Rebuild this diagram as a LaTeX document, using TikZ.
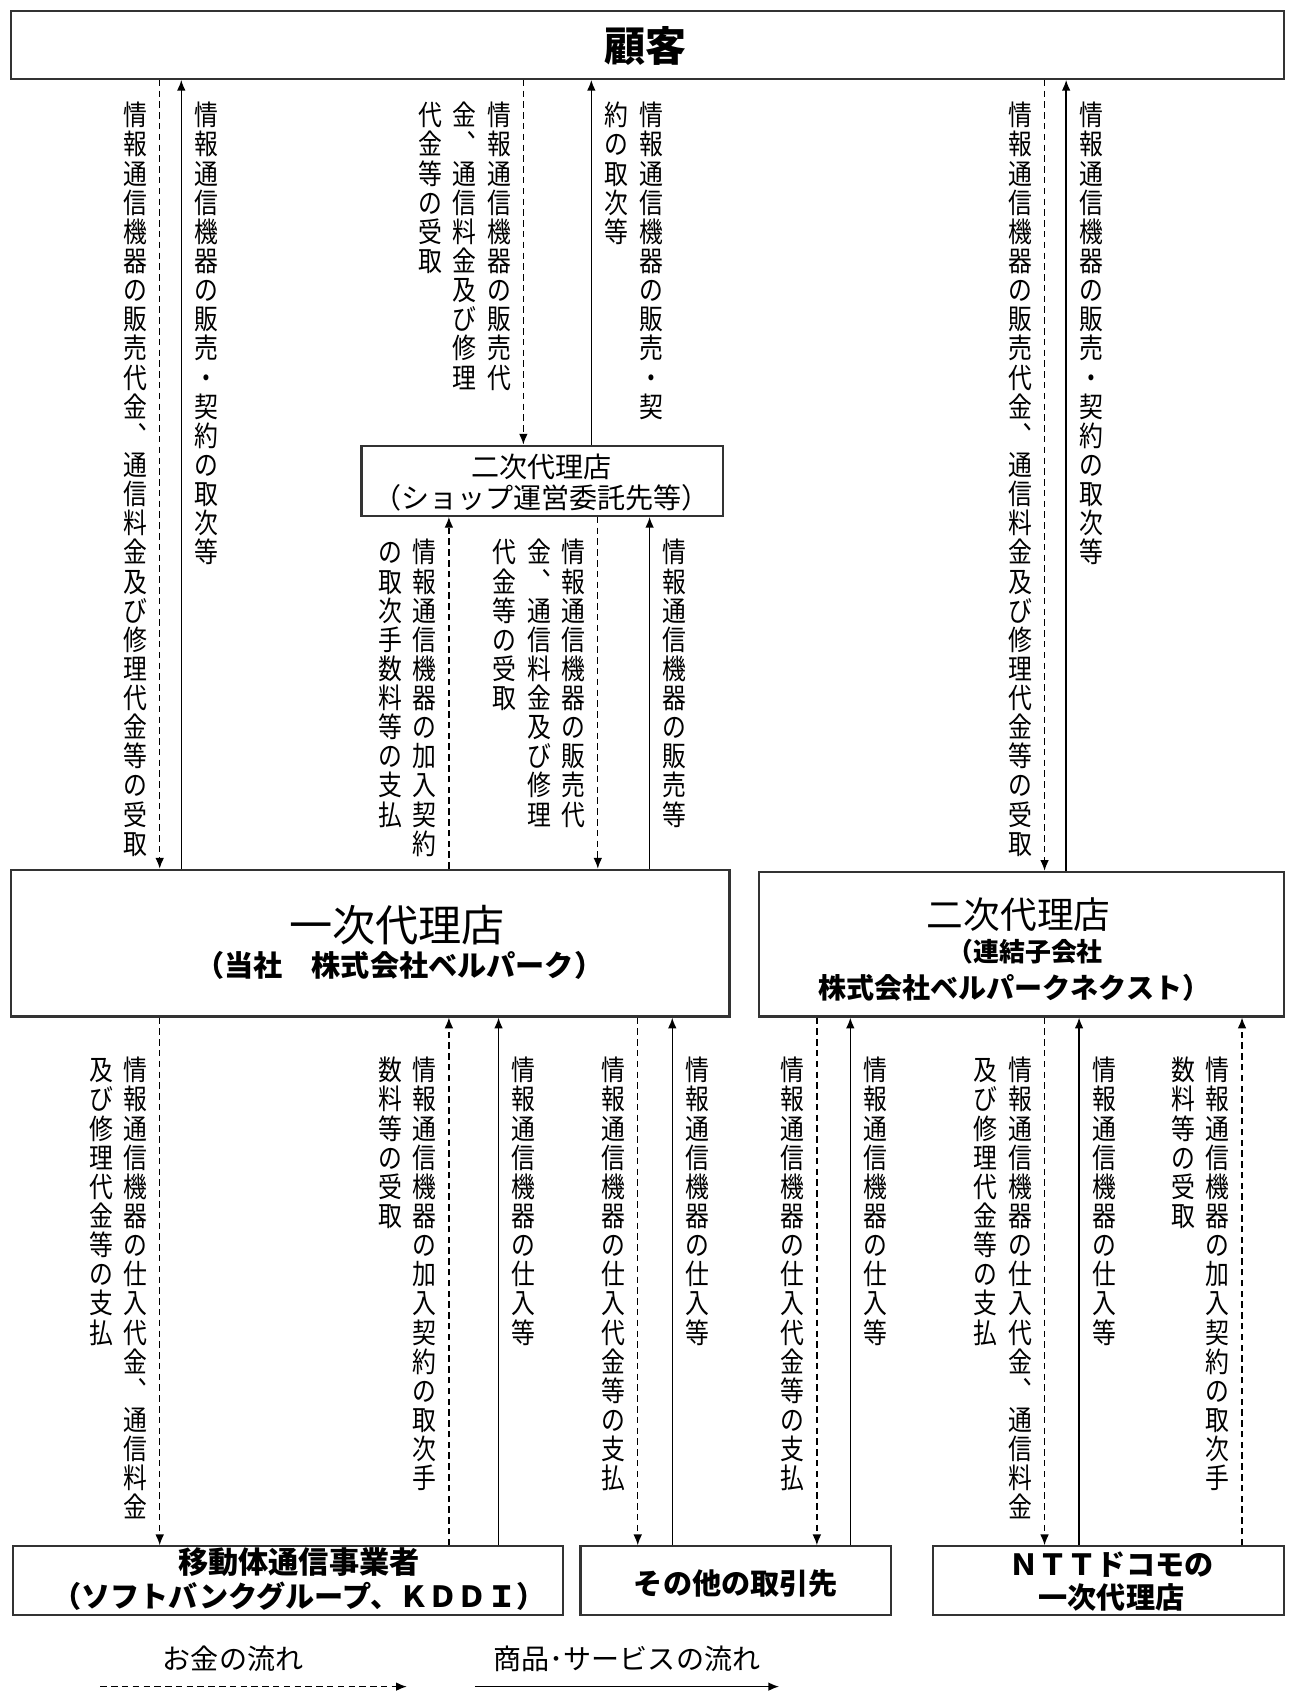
\documentclass[tikz,border=0pt]{standalone}
\usepackage{fontspec}
\setmainfont{Noto Sans CJK JP}
\newfontfamily\jpv[FakeStretch=0.85]{Noto Sans CJK JP}
\usetikzlibrary{arrows.meta}
\newcommand\setfs[1]{\fontsize{#1}{#1}\selectfont}

\ExplSyntaxOn
\dim_new:N \l__vt_pitch_dim
\dim_new:N \l__vt_wd_dim
\dim_new:N \l__vt_gap_dim
\dim_set:Nn \l__vt_pitch_dim {13.5pt}
\dim_set:Nn \l__vt_wd_dim {11pt}
\dim_set:Nn \l__vt_gap_dim {5pt}
\seq_new:N \l__vt_cols_seq
\bool_new:N \l__vt_first_bool
\cs_new_protected:Npn \__vt_char:n #1
  {
    \hbox_to_wd:nn { \l__vt_wd_dim }
      {
        \vrule height 0.86\l__vt_pitch_dim depth 0.14\l__vt_pitch_dim width 0pt
        \str_if_eq:nnTF {#1} {、}
          { \hss ︑ \hss }
          { \hss #1 \hss }
      }
  }
\cs_new_protected:Npn \__vt_col:n #1
  {
    \vtop
      {
        \offinterlineskip
        \tl_map_inline:nn {#1} { \__vt_char:n {##1} }
      }
  }
\NewDocumentCommand \vlab { m }
  {
    \seq_set_split:Nnn \l__vt_cols_seq { / } {#1}
    \seq_reverse:N \l__vt_cols_seq
    \hbox:n
      {
        \jpv \fontsize{13pt}{13.5pt} \selectfont
        \bool_set_true:N \l__vt_first_bool
        \seq_map_inline:Nn \l__vt_cols_seq
          {
            \bool_if:NF \l__vt_first_bool { \kern \l__vt_gap_dim }
            \bool_set_false:N \l__vt_first_bool
            \__vt_col:n {##1}
          }
      }
  }
\ExplSyntaxOff

\tikzset{
  box/.style={draw=black!80, line width=1pt, inner sep=0pt, fill=white},
  money/.style={line width=0.6pt, dash pattern=on 3pt off 2pt, -{Latex[length=5pt,width=4pt]}},
  goods/.style={line width=0.7pt, -{Latex[length=5pt,width=4pt]}},
  vl/.style={anchor=north east, inner sep=0pt},
  vr/.style={anchor=north west, inner sep=0pt},
  txt/.style={inner sep=0pt},
}

\begin{document}
\begin{tikzpicture}[x=0.5pt,y=-0.5pt]
\path[use as bounding box, fill=white] (0,0) rectangle (1194,1568);

% boxes
\node[box, minimum width=590pt, minimum height=31.5pt] (cust) at (600,41.5) {};
\node[txt, font=\setfs{19pt}\bfseries] (custT) at (598,43) {顧客};

\node[box, minimum width=167.5pt, minimum height=32.5pt] (shop) at (502.5,445.5) {};
\node[txt, font=\setfs{13pt}] (shopT1) at (502,433) {二次代理店};
\node[txt, font=\setfs{13pt}] (shopT2) at (502,461) {（ショップ運営委託先等）};

\node[box, minimum width=333pt, minimum height=68pt] (first) at (343,874) {};
\node[txt, font=\setfs{20pt}] (firstT1) at (368,857) {一次代理店};
\node[txt, font=\setfs{13.5pt}\bfseries] (firstT2) at (370,895) {（当社　株式会社ベルパーク）};

\node[box, minimum width=243.5pt, minimum height=67pt] (second) at (946.5,875) {};
\node[txt, font=\setfs{17pt}] (secondT1) at (944,848) {二次代理店};
\node[txt, font=\setfs{12pt}\bfseries] (secondT2) at (950,882) {（連結子会社};
\node[txt, font=\setfs{13pt}\bfseries] (secondT3) at (940,915) {株式会社ベルパークネクスト）};

\node[box, minimum width=255pt, minimum height=32pt] (carrier) at (267,1465) {};
\node[txt, font=\setfs{14pt}\bfseries] (carrierT1) at (277,1448) {移動体通信事業者};
\node[txt, font=\setfs{13.5pt}\bfseries] (carrierT2) at (277,1479) {（ソフトバンクグループ、ＫＤＤＩ）};

\node[box, minimum width=144pt, minimum height=32pt] (other) at (682,1465) {};
\node[txt, font=\setfs{13.5pt}\bfseries] (otherT) at (682,1467) {その他の取引先};

\node[box, minimum width=162.5pt, minimum height=32pt] (ntt) at (1027.5,1465) {};
\node[txt, font=\setfs{13.5pt}\bfseries] (nttT1) at (1030,1450) {ＮＴＴドコモの};
\node[txt, font=\setfs{13.5pt}\bfseries] (nttT2) at (1030,1480) {一次代理店};

% top section connectors
\draw[money] (cust.south -| 148,0) -- (first.north -| 148,0);
\draw[goods] (first.north -| 168,0) -- (cust.south -| 168,0);
\draw[money] (cust.south -| 485,0) -- (shop.north -| 485,0);
\draw[goods] (shop.north -| 548,0) -- (cust.south -| 548,0);
\draw[money] (cust.south -| 968,0) -- (second.north -| 968,0);
\draw[goods] (second.north -| 988,0) -- (cust.south -| 988,0);

% middle section connectors
\draw[money] (first.north -| 416,0) -- (shop.south -| 416,0);
\draw[money] (shop.south -| 554,0) -- (first.north -| 554,0);
\draw[goods] (first.north -| 602,0) -- (shop.south -| 602,0);

% bottom section connectors
\draw[money] (first.south -| 148,0) -- (carrier.north -| 148,0);
\draw[money] (carrier.north -| 416,0) -- (first.south -| 416,0);
\draw[goods] (carrier.north -| 462,0) -- (first.south -| 462,0);
\draw[money] (first.south -| 591,0) -- (other.north -| 591,0);
\draw[goods] (other.north -| 623,0) -- (first.south -| 623,0);
\draw[money] (second.south -| 757,0) -- (other.north -| 757,0);
\draw[goods] (other.north -| 788,0) -- (second.south -| 788,0);
\draw[money] (second.south -| 968,0) -- (ntt.north -| 968,0);
\draw[goods] (ntt.north -| 1000,0) -- (second.south -| 1000,0);
\draw[money] (ntt.north -| 1151,0) -- (second.south -| 1151,0);

% vertical labels, top
\node[vl] (l1) at (137,93) {\vlab{情報通信機器の販売代金、通信料金及び修理代金等の受取}};
\node[vr] (r1) at (180,93) {\vlab{情報通信機器の販売・契約の取次等}};
\node[vl] (l2) at (474,93) {\vlab{情報通信機器の販売代/金、通信料金及び修理/代金等の受取}};
\node[vr] (r2) at (560,93) {\vlab{情報通信機器の販売・契/約の取次等}};
\node[vl] (l3) at (957,93) {\vlab{情報通信機器の販売代金、通信料金及び修理代金等の受取}};
\node[vr] (r3) at (1000,93) {\vlab{情報通信機器の販売・契約の取次等}};

% vertical labels, middle
\node[vl] (l4) at (405,498) {\vlab{情報通信機器の加入契約/の取次手数料等の支払}};
\node[vl] (l5) at (543,498) {\vlab{情報通信機器の販売代/金、通信料金及び修理/代金等の受取}};
\node[vr] (r6) at (614,498) {\vlab{情報通信機器の販売等}};

% vertical labels, bottom
\node[vl] (l7) at (137,978) {\vlab{情報通信機器の仕入代金、通信料金/及び修理代金等の支払}};
\node[vl] (l8) at (405,978) {\vlab{情報通信機器の加入契約の取次手/数料等の受取}};
\node[vr] (r9) at (474,978) {\vlab{情報通信機器の仕入等}};
\node[vl] (l10) at (580,978) {\vlab{情報通信機器の仕入代金等の支払}};
\node[vr] (r11) at (635,978) {\vlab{情報通信機器の仕入等}};
\node[vl] (l12) at (746,978) {\vlab{情報通信機器の仕入代金等の支払}};
\node[vr] (r13) at (800,978) {\vlab{情報通信機器の仕入等}};
\node[vl] (l14) at (957,978) {\vlab{情報通信機器の仕入代金、通信料金/及び修理代金等の支払}};
\node[vr] (r15) at (1012,978) {\vlab{情報通信機器の仕入等}};
\node[vl] (l16) at (1140,978) {\vlab{情報通信機器の加入契約の取次手/数料等の受取}};

% legend
\node[txt, font=\setfs{13pt}] (legM) at (216,1537) {お金の流れ};
\node[txt, font=\setfs{13pt}] (legG) at (581,1537) {商品･サービスの流れ};
\coordinate (legM1) at (93,1563);
\coordinate (legM2) at (377,1563);
\coordinate (legG1) at (440,1563);
\coordinate (legG2) at (722,1563);
\draw[money] (legM1) -- (legM2);
\draw[goods] (legG1) -- (legG2);
\end{tikzpicture}
\end{document}
